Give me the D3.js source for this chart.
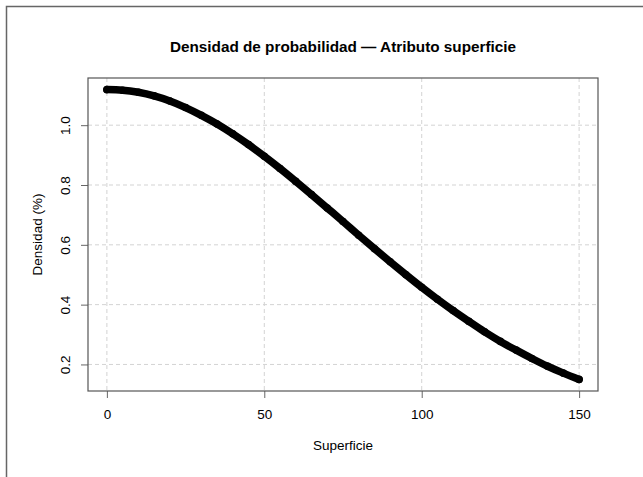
<!DOCTYPE html>
<html>
<head>
<meta charset="utf-8">
<script src="https://cdn.jsdelivr.net/npm/d3@7"></script>
<style>
  body { margin: 0; background: #fff; }
  text { font-family: "Liberation Sans", Arial, Helvetica, sans-serif; fill: #000; }
</style>
</head>
<body>
<div id="chart_d3"></div>
<script>
// values
var superficie = [0, 5, 10, 15, 20, 25, 30, 35, 40, 45, 50, 55, 60, 65, 70, 75,
  80, 85, 90, 95, 100, 105, 110, 115, 120, 125, 130, 135, 140, 145, 150];
var densidad = [1.119, 1.117, 1.110, 1.098, 1.081, 1.059, 1.033, 1.004, 0.971, 0.935, 0.896,
  0.855, 0.812, 0.768, 0.723, 0.678, 0.632, 0.587, 0.543, 0.500, 0.458,
  0.418, 0.380, 0.344, 0.309, 0.277, 0.248, 0.220, 0.194, 0.171, 0.150];
var xTicks = [0, 50, 100, 150];
var yTicks = [0.2, 0.4, 0.6, 0.8, 1.0];

var svgWidth = 643;
var svgHeight = 477;
var margin = { left: 88, right: 45, top: 78, bottom: 86 };
var width = svgWidth - margin.left - margin.right;
var height = svgHeight - margin.top - margin.bottom;

var root = d3.select('#chart_d3').append('svg')
  .attr('width', svgWidth)
  .attr('height', svgHeight);

// outer frame (runs off the right and bottom edges)
root.append('rect')
  .attr('x', 6.5)
  .attr('y', 6.5)
  .attr('width', svgWidth + 20)
  .attr('height', svgHeight + 20)
  .attr('fill', 'none')
  .attr('stroke', '#666')
  .attr('stroke-width', 1.5);

root.append('text')
  .attr('x', margin.left + width / 2)
  .attr('y', 52)
  .attr('text-anchor', 'middle')
  .style('font-size', '15.3px')
  .style('font-weight', 'bold')
  .text('Densidad de probabilidad \u2014 Atributo superficie');

var svg = root.append('g')
  .attr('transform', 'translate(' + margin.left + ', ' + margin.top + ')');

// R style: 4% padding on each side of the data range
var xMin = d3.min(superficie), xMax = d3.max(superficie);
var yMin = d3.min(densidad), yMax = d3.max(densidad);
var xPad = (xMax - xMin) * 0.04, yPad = (yMax - yMin) * 0.04;

var xScale = d3.scaleLinear()
  .range([0, width])
  .domain([xMin - xPad, xMax + xPad]);
var yScale = d3.scaleLinear()
  .range([height, 0])
  .domain([yMin - yPad, yMax + yPad]);

// grid
svg.append('g').selectAll('line')
  .data(xTicks)
  .enter().append('line')
  .attr('x1', function (d) { return xScale(d); })
  .attr('x2', function (d) { return xScale(d); })
  .attr('y1', 0)
  .attr('y2', height)
  .attr('stroke', '#d3d3d3')
  .attr('stroke-dasharray', '4,3');
svg.append('g').selectAll('line')
  .data(yTicks)
  .enter().append('line')
  .attr('x1', 0)
  .attr('x2', width)
  .attr('y1', function (d) { return yScale(d); })
  .attr('y2', function (d) { return yScale(d); })
  .attr('stroke', '#d3d3d3')
  .attr('stroke-dasharray', '4,3');

// axes
var xAxis = d3.axisBottom(xScale)
  .tickValues(xTicks)
  .tickSize(7)
  .tickPadding(11)
  .tickSizeOuter(0);
var yAxis = d3.axisLeft(yScale)
  .tickValues(yTicks)
  .tickFormat(d3.format('.1f'))
  .tickSize(7)
  .tickSizeOuter(0);

var gx = svg.append('g')
  .attr('class', 'axis axis--x')
  .attr('transform', 'translate(0, ' + height + ')')
  .call(xAxis);
var gy = svg.append('g')
  .attr('class', 'axis axis--y')
  .call(yAxis);

gx.select('.domain').remove();
gy.select('.domain').remove();
svg.selectAll('.axis line').attr('stroke', '#666').attr('stroke-width', 1);
svg.selectAll('.axis text')
  .style('font-size', '13.5px')
  .style('font-family', '"Liberation Sans", Arial, sans-serif')
  .attr('fill', '#000');

gy.selectAll('.tick text')
  .attr('x', null)
  .attr('dy', null)
  .attr('text-anchor', 'middle')
  .attr('transform', 'translate(-18, 0) rotate(-90)');

// box
svg.append('rect')
  .attr('x', 0)
  .attr('y', 0)
  .attr('width', width)
  .attr('height', height)
  .attr('fill', 'none')
  .attr('stroke', '#555')
  .attr('stroke-width', 1.2);

// axis titles
root.append('text')
  .attr('x', margin.left + width / 2)
  .attr('y', 450)
  .attr('text-anchor', 'middle')
  .style('font-size', '13.5px')
  .text('Superficie');
root.append('text')
  .attr('transform', 'translate(42, ' + (margin.top + height / 2) + ') rotate(-90)')
  .attr('text-anchor', 'middle')
  .style('font-size', '13.5px')
  .text('Densidad (%)');

// density curve: dense open circles look like a thick band
var line1 = d3.line()
  .x(function (d, i) { return xScale(superficie[i]); })
  .y(function (d) { return yScale(d); })
  .curve(d3.curveMonotoneX);

svg.append('path')
  .datum(densidad)
  .attr('class', 'line')
  .attr('d', line1)
  .attr('fill', 'none')
  .attr('stroke', '#000')
  .attr('stroke-width', 7.5)
  .attr('stroke-linecap', 'round');

svg.append('g').selectAll('circle')
  .data(densidad)
  .enter().append('circle')
  .attr('cx', function (d, i) { return xScale(superficie[i]); })
  .attr('cy', function (d) { return yScale(d); })
  .attr('r', 3.2)
  .attr('fill', 'none')
  .attr('stroke', '#000')
  .attr('stroke-width', 1.2);
</script>
</body>
</html>
